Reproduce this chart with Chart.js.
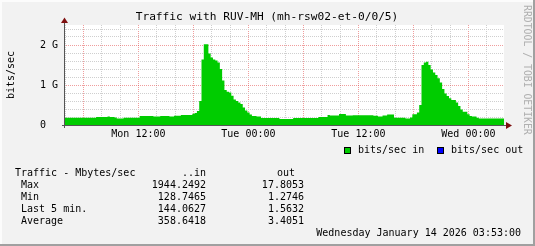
<!DOCTYPE html>
<html>
<head>
<meta charset="utf-8">
<script src="https://cdn.jsdelivr.net/npm/chart.js@4.4.1/dist/chart.umd.min.js"></script>
<style>
  html, body { margin: 0; padding: 0; background: #f2f2f2; }
  canvas { display: block; }
</style>
</head>
<body>
<canvas id="trafficChart" width="535" height="246"></canvas>
<script>
// Time axis: hours since Mon 00:00, graph covers Mon 03:53 -> Wed 03:53
const startHour = 3 + 53 / 60;
const spanHours = 48;
const stepHours = 0.25;   // one value every 15 min
const outStepHours = 2;

// bits/sec in, in Gbit/s
const inGbps = [
  0.18, 0.18, 0.18, 0.18, 0.18, 0.18, 0.18, 0.18, 0.18, 0.18, 0.18, 0.18,
  0.18, 0.18, 0.2, 0.2, 0.2, 0.2, 0.2, 0.21, 0.2, 0.2, 0.19, 0.16,
  0.16, 0.16, 0.18, 0.18, 0.18, 0.18, 0.18, 0.18, 0.18, 0.225, 0.225, 0.225,
  0.225, 0.225, 0.225, 0.21, 0.21, 0.21, 0.225, 0.225, 0.225, 0.225, 0.21, 0.21,
  0.23, 0.23, 0.23, 0.25, 0.25, 0.25, 0.25, 0.25, 0.28, 0.3, 0.35, 0.6,
  1.64, 2.02, 2.02, 1.79, 1.69, 1.64, 1.61, 1.56, 1.4, 1.11, 0.875, 0.83,
  0.81, 0.73, 0.64, 0.6, 0.56, 0.525, 0.44, 0.36, 0.31, 0.26, 0.225, 0.225,
  0.21, 0.21, 0.175, 0.175, 0.175, 0.175, 0.175, 0.175, 0.175, 0.175, 0.15, 0.15,
  0.15, 0.15, 0.15, 0.15, 0.175, 0.175, 0.175, 0.175, 0.175, 0.175, 0.175, 0.175,
  0.175, 0.175, 0.175, 0.2, 0.2, 0.2, 0.2, 0.25, 0.24, 0.24, 0.24, 0.24,
  0.275, 0.275, 0.275, 0.24, 0.24, 0.24, 0.245, 0.245, 0.245, 0.245, 0.245, 0.245,
  0.245, 0.245, 0.245, 0.23, 0.23, 0.21, 0.21, 0.24, 0.24, 0.26, 0.26, 0.26,
  0.18, 0.18, 0.18, 0.18, 0.18, 0.16, 0.16, 0.19, 0.27, 0.27, 0.31, 0.5,
  1.5, 1.56, 1.58, 1.5, 1.39, 1.31, 1.25, 1.17, 1.06, 0.9, 0.79, 0.725,
  0.67, 0.625, 0.625, 0.56, 0.475, 0.39, 0.33, 0.33, 0.27, 0.225, 0.21, 0.21,
  0.18, 0.16, 0.16, 0.16, 0.16, 0.16, 0.16, 0.16, 0.16, 0.16, 0.16, 0.16
];

// bits/sec out, in Gbit/s (too small to see, estimated from the stats)
const outGbps = [
  0.0016, 0.0015, 0.0014, 0.0018, 0.0021, 0.0024, 0.0035, 0.0178, 0.0062, 0.0031, 0.0019, 0.0013,
  0.0016, 0.0020, 0.0024, 0.0026, 0.0025, 0.0030, 0.0121, 0.0058, 0.0027, 0.0016, 0.0015, 0.0016
];

const xLabelHours = [12, 24, 36, 48];
const xLabels = ['Mon 12:00', 'Tue 00:00', 'Tue 12:00', 'Wed 00:00'];
const yLabelValues = [0, 1, 2];
const yLabels = ['0', '1 G', '2 G'];

const statLabels = ['Max', 'Min', 'Last 5 min.', 'Average'];
const statIn = [1944.2492, 128.7465, 144.0627, 358.6418];
const statOut = [17.8053, 1.2746, 1.5632, 3.4051];

const titleText = 'Traffic with RUV-MH (mh-rsw02-et-0/0/5)';
const footerText = 'Wednesday January 14 2026 03:53:00';

const FONT = '"DejaVu Sans Mono", "Liberation Mono", monospace';
const GREEN = '#00cc00';
const BLUE = '#0000ff';

function toPoints(values, step) {
    const pts = values.map((v, k) => ({ x: startHour + k * step, y: v }));
    pts.push({ x: startHour + values.length * step, y: values[values.length - 1] });
    return pts;
}

function isWhole(v) {
    return Math.abs(v - Math.round(v)) < 1e-6;
}

function drawText(ctx, text, x, y, align, size, color) {
    ctx.font = size + 'px ' + FONT;
    ctx.fillStyle = color || '#000';
    ctx.textAlign = align;
    ctx.textBaseline = 'middle';
    ctx.fillText(text, x, y);
}

// RRD style frame, axes, title, legend and stats block
const rrdPlugin = {
    id: 'rrdLook',
    beforeDraw(chart) {
        const ctx = chart.ctx;
        const a = chart.chartArea;
        ctx.save();
        ctx.fillStyle = '#f2f2f2';
        ctx.fillRect(0, 0, chart.width, chart.height);
        ctx.fillStyle = '#ffffff';
        ctx.fillRect(a.left, a.top, a.right - a.left, a.bottom - a.top);
        ctx.restore();
    },
    afterDraw(chart) {
        const ctx = chart.ctx;
        const a = chart.chartArea;
        ctx.save();

        // axis lines
        ctx.strokeStyle = '#555';
        ctx.lineWidth = 1;
        ctx.beginPath();
        ctx.moveTo(a.left + 0.5, 22);
        ctx.lineTo(a.left + 0.5, a.bottom + 3);
        ctx.moveTo(a.left - 2, a.bottom + 0.5);
        ctx.lineTo(a.right + 3, a.bottom + 0.5);
        ctx.stroke();

        // arrows
        ctx.fillStyle = '#7f1010';
        ctx.beginPath();
        ctx.moveTo(a.left + 0.5, 17.5);
        ctx.lineTo(a.left - 3, 23);
        ctx.lineTo(a.left + 4, 23);
        ctx.closePath();
        ctx.fill();
        ctx.beginPath();
        ctx.moveTo(a.right + 8, a.bottom + 0.5);
        ctx.lineTo(a.right + 2, a.bottom - 3);
        ctx.lineTo(a.right + 2, a.bottom + 4);
        ctx.closePath();
        ctx.fill();

        // title
        drawText(ctx, titleText, 267, 17, 'center', 11.2);

        // y axis title
        ctx.save();
        ctx.translate(11, 75);
        ctx.rotate(-Math.PI / 2);
        drawText(ctx, 'bits/sec', 0, 0, 'center', 10);
        ctx.restore();

        // watermark
        ctx.save();
        ctx.translate(527, 5);
        ctx.rotate(Math.PI / 2);
        drawText(ctx, 'RRDTOOL / TOBI OETIKER', 0, 0, 'left', 9.8, '#b0b0b0');
        ctx.restore();

        // legend
        const sets = chart.data.datasets;
        const legendX = [344, 437];
        sets.forEach((ds, i) => {
            const x = legendX[i];
            ctx.fillStyle = '#000';
            ctx.fillRect(x, 147, 7, 7);
            ctx.fillStyle = ds.backgroundColor;
            ctx.fillRect(x + 1, 148, 5, 5);
            drawText(ctx, ds.label, x + 14, 150.5, 'left', 10);
        });

        // stats block
        drawText(ctx, 'Traffic - Mbytes/sec', 15, 173.5, 'left', 10);
        drawText(ctx, '..in', 206, 173.5, 'right', 10);
        drawText(ctx, 'out', 295, 173.5, 'right', 10);
        statLabels.forEach((lbl, i) => {
            const y = 185.5 + i * 12;
            drawText(ctx, lbl, 21, y, 'left', 10);
            drawText(ctx, statIn[i].toFixed(4), 206, y, 'right', 10);
            drawText(ctx, statOut[i].toFixed(4), 304, y, 'right', 10);
        });
        drawText(ctx, footerText, 521, 233.5, 'right', 10);

        // 3d frame
        ctx.fillStyle = '#fcfcfc';
        ctx.fillRect(0, 0, chart.width, 2);
        ctx.fillRect(0, 0, 2, chart.height);
        ctx.fillStyle = '#a0a0a0';
        ctx.fillRect(0, chart.height - 2, chart.width, 2);
        ctx.fillRect(chart.width - 2, 0, 2, chart.height);

        ctx.restore();
    }
};

const gridRed = 'rgba(225, 60, 60, 0.5)';
const gridGray = '#cfcfcf';

new Chart(document.getElementById('trafficChart'), {
    type: 'line',
    data: {
        datasets: [
            {
                label: 'bits/sec in',
                data: toPoints(inGbps, stepHours),
                stepped: true,
                fill: 'origin',
                backgroundColor: GREEN,
                borderColor: 'rgba(0,0,0,0)',
                borderWidth: 0,
                pointRadius: 0
            },
            {
                label: 'bits/sec out',
                data: toPoints(outGbps, outStepHours),
                stepped: true,
                fill: 'origin',
                backgroundColor: BLUE,
                borderColor: 'rgba(0,0,0,0)',
                borderWidth: 0,
                pointRadius: 0
            }
        ]
    },
    options: {
        responsive: false,
        animation: false,
        events: [],
        layout: { padding: { left: 0, right: 31, top: 25, bottom: 101 } },
        plugins: {
            legend: { display: false },
            title: { display: false },
            tooltip: { enabled: false }
        },
        scales: {
            x: {
                type: 'linear',
                min: startHour,
                max: startHour + spanHours,
                afterFit(scale) { scale.height = 20; },
                afterBuildTicks(scale) {
                    const ticks = [];
                    for (let h = Math.ceil(startHour / 2) * 2; h < startHour + spanHours; h += 2) {
                        ticks.push({ value: h });
                    }
                    scale.ticks = ticks;
                },
                grid: {
                    drawTicks: false,
                    color: (c) => (c.tick && c.tick.value % 6 === 0 ? gridRed : gridGray)
                },
                border: { display: false, dash: [1, 1] },
                ticks: {
                    autoSkip: false,
                    maxRotation: 0,
                    padding: 3,
                    color: '#000',
                    font: { family: FONT, size: 10 },
                    callback: (v) => {
                        const i = xLabelHours.indexOf(v);
                        return i >= 0 ? xLabels[i] : '';
                    }
                }
            },
            y: {
                min: 0,
                max: 2.5,
                afterFit(scale) { scale.width = 64; },
                afterBuildTicks(scale) {
                    const ticks = [];
                    for (let j = 0; j <= 12; j++) ticks.push({ value: Math.round(j * 2) / 10 });
                    scale.ticks = ticks;
                },
                grid: {
                    drawTicks: false,
                    color: (c) => (c.tick && isWhole(c.tick.value) ? gridRed : gridGray)
                },
                border: { display: false, dash: [1, 1] },
                ticks: {
                    autoSkip: false,
                    padding: 6,
                    color: '#000',
                    font: { family: FONT, size: 10 },
                    callback: (v) => {
                        const i = yLabelValues.findIndex((y) => Math.abs(y - v) < 1e-6);
                        return i >= 0 ? yLabels[i].padEnd(3) : '';
                    }
                }
            }
        }
    },
    plugins: [rrdPlugin]
});
</script>
</body>
</html>
